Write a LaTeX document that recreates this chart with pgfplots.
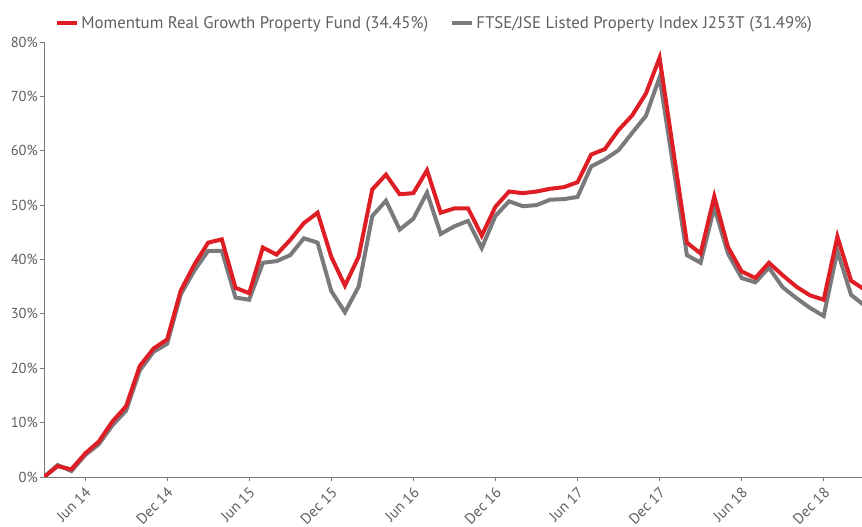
\documentclass[border=0pt]{standalone}
\usepackage{pgfplots}
\pgfplotsset{compat=1.18}
\usepackage{pgfplotstable}
\usepackage{fontspec}
\setmainfont{PT Sans}
\definecolor{fundred}{RGB}{222,30,36}
\definecolor{idxgray}{RGB}{122,122,126}
\definecolor{axgray}{RGB}{120,120,120}
\definecolor{txtgray}{RGB}{95,95,95}
\pgfplotstableread{
i fund index
0 0 0
1 2.0 2.2
2 1.4 1.1
3 4.3 4.0
4 6.5 6.0
5 10.2 9.5
6 13.0 12.2
7 20.4 19.6
8 23.6 23.0
9 25.3 24.5
10 34.3 33.6
11 39.1 38.0
12 43.1 41.6
13 43.7 41.6
14 34.8 33.0
15 33.8 32.6
16 42.2 39.4
17 40.9 39.7
18 43.6 40.8
19 46.7 43.9
20 48.6 43.1
21 40.5 34.2
22 35.2 30.3
23 40.5 35.0
24 52.9 48.0
25 55.6 50.8
26 52.0 45.5
27 52.2 47.5
28 56.4 52.3
29 48.6 44.7
30 49.4 46.1
31 49.4 47.1
32 44.4 42.1
33 49.7 48.0
34 52.5 50.7
35 52.2 49.8
36 52.5 50.0
37 53.0 51.0
38 53.3 51.1
39 54.2 51.5
40 59.3 57.1
41 60.3 58.4
42 63.8 60.1
43 66.5 63.3
44 70.5 66.4
45 77.1 73.5
46 60.1 57.2
47 43.1 40.8
48 41.1 39.4
49 51.6 49.6
50 42.3 41.1
51 37.8 36.6
52 36.6 35.8
53 39.4 38.5
54 37.1 34.9
55 35.0 32.9
56 33.4 31.1
57 32.6 29.6
58 44.2 41.6
59 36.1 33.5
60 34.45 31.49
}\perfdata
\begin{document}
\begin{tikzpicture}
\path[use as bounding box] (0,0) rectangle (862pt,527pt);
\begin{axis}[
  at={(44pt,50pt)}, anchor=south west,
  scale only axis,
  width=818pt, height=435pt,
  xmin=0, xmax=59.8,
  ymin=0, ymax=80,
  axis x line=bottom, axis y line=left,
  axis line style={axgray, line width=0.9pt, -},
  tick style={axgray, line width=0.8pt},
  tick align=outside,
  major tick length=4pt,
  xtick={3,9,15,21,27,33,39,45,51,57},
  xticklabels={Jun 14,Dec 14,Jun 15,Dec 15,Jun 16,Dec 16,Jun 17,Dec 17,Jun 18,Dec 18},
  ytick={0,10,20,30,40,50,60,70,80},
  yticklabel={\pgfmathprintnumber{\tick}\%},
  /pgf/number format/assume math mode=true,
  x tick label style={rotate=45, anchor=north east, font=\fontsize{15}{17}\selectfont, text=txtgray, inner sep=1pt, xshift=-3pt, yshift=-2pt},
  y tick label style={font=\fontsize{14.5}{16}\selectfont, text=txtgray, inner sep=2pt},
  legend style={at={(0.01,1.068)}, anchor=north west, draw=none, fill=none,
    font=\fontsize{16.8}{19}\selectfont, text=txtgray,
    /tikz/every even column/.append style={column sep=20pt}},
  legend columns=2,
  legend image code/.code={\draw[#1, line width=4pt] (0pt,0pt) -- (20pt,0pt);},
  clip=true,
]
\addplot[idxgray, line width=4pt, line join=miter, forget plot] table[x=i, y=index] {\perfdata};
\addplot[fundred, line width=4pt, line join=miter] table[x=i, y=fund] {\perfdata};
\addlegendentry{Momentum Real Growth Property Fund (34.45\%)}
\addlegendimage{idxgray}
\addlegendentry{FTSE/JSE Listed Property Index J253T (31.49\%)}
\end{axis}
\end{tikzpicture}
\end{document}
